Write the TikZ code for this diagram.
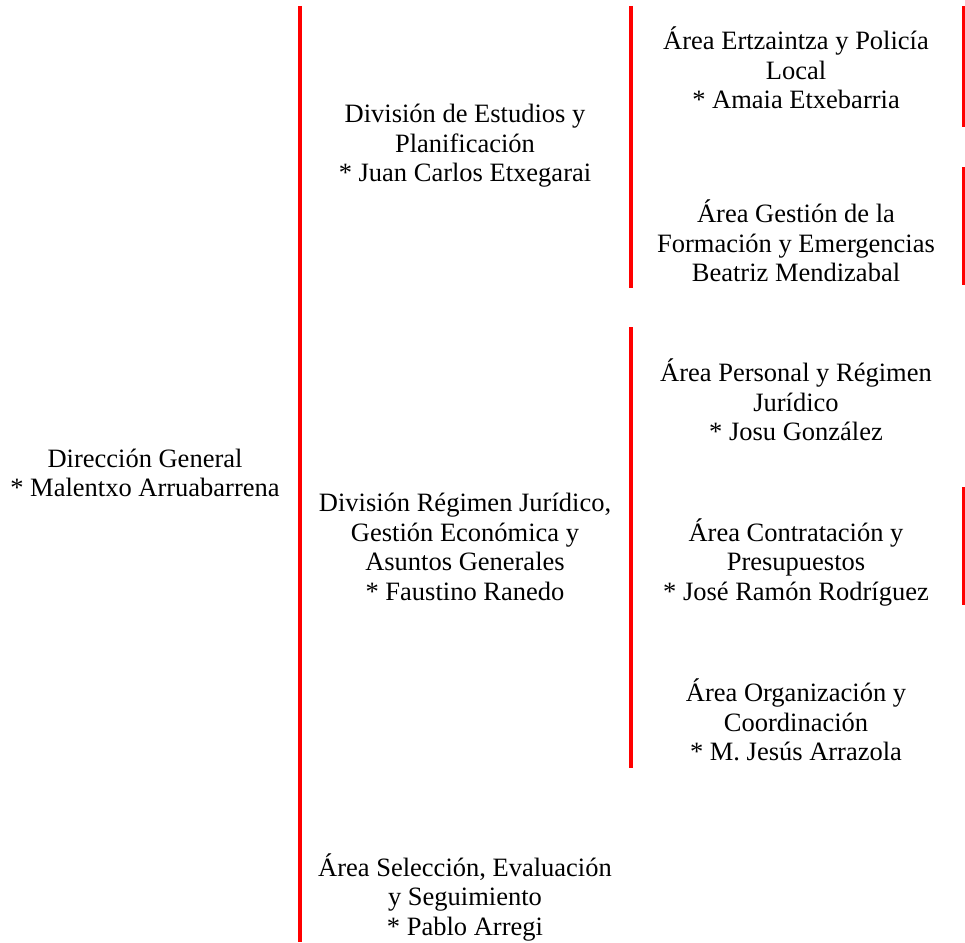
\documentclass[tikz,border=0pt]{standalone}
\usepackage{fontspec}
\setmainfont{Liberation Serif}
\begin{document}
\begin{tikzpicture}[x=1pt,y=-1pt,
  lbl/.style={align=center,font=\fontsize{26.5}{29.5}\selectfont,inner sep=0pt},
  redline/.style={draw=red,line width=4pt}]
\useasboundingbox (0,0) rectangle (965,942);
\begin{scope}
\clip (0,0) rectangle (965,942);
\draw[redline] (300,6) -- (300,942);
\draw[redline] (631,6) -- (631,288);
\draw[redline] (631,327) -- (631,768);
\draw[redline] (963.5,6) -- (963.5,127);
\draw[redline] (963.5,167) -- (963.5,285);
\draw[redline] (963.5,487) -- (963.5,605);
\end{scope}
\node[lbl] (dg) at (145,473) {Dirección General\\* Malentxo Arruabarrena};
\node[lbl] (d1) at (465,146) {División de Estudios y\\Planificación\\* Juan Carlos Etxegarai};
\node[lbl] (d2) at (465,547) {División Régimen Jurídico,\\Gestión Económica y\\Asuntos Generales\\* Faustino Ranedo};
\node[lbl] (d3) at (465,897) {Área Selección, Evaluación\\y Seguimiento\\* Pablo Arregi};
\node[lbl] (a1) at (796,68) {Área Ertzaintza y Policía\\Local\\* Amaia Etxebarria};
\node[lbl] (a2) at (796,241) {Área Gestión de la\\Formación y Emergencias\\Beatriz Mendizabal};
\node[lbl] (a3) at (796,400) {Área Personal y Régimen\\Jurídico\\* Josu González};
\node[lbl] (a4) at (796,562) {Área Contratación y\\Presupuestos\\* José Ramón Rodríguez};
\node[lbl] (a5) at (796,720) {Área Organización y\\Coordinación\\* M. Jesús Arrazola};
\end{tikzpicture}
\end{document}
